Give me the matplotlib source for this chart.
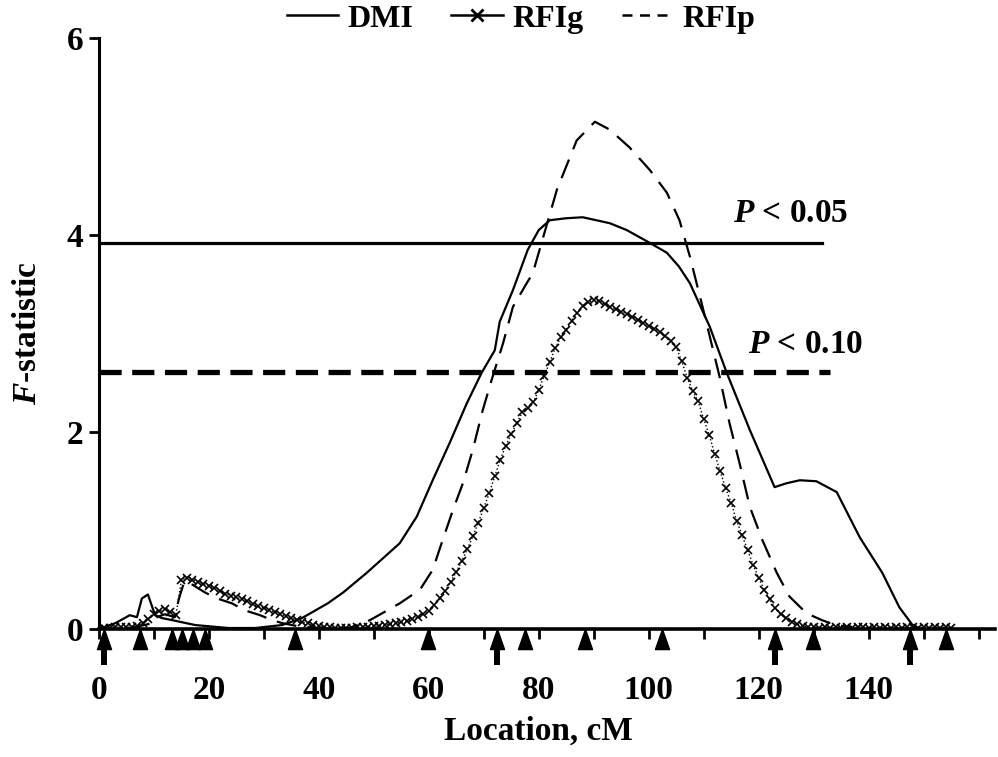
#!/usr/bin/env python3
"""F-statistic profile along the chromosome for DMI, RFIg and RFIp."""

import matplotlib

matplotlib.use("Agg")
import matplotlib.pyplot as plt
from matplotlib.lines import Line2D

# ---- data ----
dmi_cm = [0, 3, 5.6, 6.9, 7.8, 8.9, 10.2, 11.5, 13.3, 17.5, 23.5, 28.4, 33.3,
          36.9, 41.6, 44.4, 48.7, 54.7, 57.8, 60.7, 63.8, 66.9, 69.6, 72.0,
          72.9, 75.3, 78.0, 80.0, 82.0, 85.0, 88.0, 92.9, 96.0, 100.2, 103.3,
          105.5, 107.5, 111.1, 114.2, 118.4, 122.9, 125.1, 127.5, 130.5,
          134.2, 138.4, 142.5, 145.6, 148.0, 149.5]
dmi_f = [0, 0.06, 0.14, 0.12, 0.31, 0.35, 0.14, 0.11, 0.09, 0.04, 0.01, 0.01,
         0.04, 0.11, 0.26, 0.37, 0.57, 0.87, 1.14, 1.51, 1.89, 2.29, 2.60,
         2.83, 3.12, 3.44, 3.85, 4.05, 4.15, 4.17, 4.18, 4.12, 4.05, 3.92,
         3.82, 3.68, 3.51, 3.07, 2.60, 2.02, 1.44, 1.48, 1.51, 1.50, 1.39,
         0.93, 0.57, 0.22, 0.04, 0.0]

rfip_cm = [0, 5, 9, 10.5, 12, 13.8, 14.5, 15.5, 17, 19.3, 21.5, 24.2, 26.5,
           29.3, 31.5, 33.3, 36, 40, 45, 49.3, 54.7, 58.4, 60.7, 62.5, 64.4,
           66.2, 68, 69.8, 71.6, 73.5, 75.3, 77.8, 78.9, 80.2, 83.3, 86.9,
           90.2, 92.9, 96.5, 100.2, 103.3, 105.6, 107.5, 109.8, 112.9, 114.7,
           116.5, 118.4, 120.7, 123.3, 125.6, 128.7, 131.5, 134, 137]
rfip_f = [0, 0.0, 0.05, 0.12, 0.15, 0.12, 0.30, 0.48, 0.45, 0.37, 0.31, 0.26,
          0.19, 0.14, 0.09, 0.06, 0.03, 0.01, 0.0, 0.09, 0.26, 0.40, 0.60,
          0.90, 1.21, 1.48, 1.82, 2.22, 2.56, 2.90, 3.27, 3.51, 3.61, 3.86,
          4.46, 4.96, 5.15, 5.07, 4.89, 4.66, 4.43, 4.15, 3.78, 3.27, 2.56,
          2.09, 1.69, 1.24, 0.90, 0.57, 0.33, 0.16, 0.09, 0.04, 0.02]

# RFIg is plotted every 1 cM from 0 to 155
rfig_f = [0.00, 0.01, 0.01, 0.02, 0.02, 0.02, 0.02, 0.03, 0.06, 0.10,
          0.15, 0.18, 0.20, 0.17, 0.14, 0.50, 0.52, 0.50, 0.48, 0.46,
          0.44, 0.42, 0.39, 0.36, 0.34, 0.32, 0.30, 0.28, 0.25, 0.23,
          0.21, 0.19, 0.17, 0.15, 0.13, 0.11, 0.09, 0.07, 0.06, 0.04,
          0.03, 0.02, 0.02, 0.01, 0.01, 0.01, 0.01, 0.02, 0.02, 0.02,
          0.03, 0.03, 0.04, 0.05, 0.06, 0.07, 0.08, 0.10, 0.12, 0.15,
          0.18, 0.24, 0.31, 0.39, 0.48, 0.58, 0.69, 0.81, 0.94, 1.08,
          1.23, 1.38, 1.55, 1.72, 1.86, 1.98, 2.09, 2.20, 2.24, 2.30,
          2.43, 2.57, 2.71, 2.85, 2.96, 3.04, 3.13, 3.21, 3.28, 3.32,
          3.34, 3.33, 3.30, 3.27, 3.25, 3.22, 3.20, 3.17, 3.14, 3.11,
          3.08, 3.05, 3.02, 2.97, 2.92, 2.86, 2.72, 2.55, 2.42, 2.31,
          2.13, 1.97, 1.78, 1.60, 1.43, 1.28, 1.10, 0.95, 0.80, 0.65,
          0.52, 0.40, 0.30, 0.21, 0.15, 0.11, 0.07, 0.05, 0.03, 0.02,
          0.02, 0.01, 0.02, 0.01, 0.02, 0.01, 0.02, 0.01, 0.02, 0.02,
          0.01, 0.02, 0.01, 0.02, 0.01, 0.02, 0.01, 0.02, 0.02, 0.01,
          0.02, 0.01, 0.02, 0.01, 0.02, 0.01]
rfig_cm = list(range(len(rfig_f)))

thr_05 = 3.92
thr_10 = 2.61
thr_end = 131.5

# marker positions along the axis (cM); arrows vs plain triangles
marker_cm = [7.5, 13.3, 15.1, 17.1, 19.3, 35.6, 59.8, 77.5, 88.5, 102.5,
             129.8, 154.0]
arrow_cm = [0.9, 72.4, 122.9, 147.6]

xtick_pos = list(range(0, 161, 10))
xtick_lab = [str(v) if v % 20 == 0 and v <= 140 else "" for v in xtick_pos]
ytick_pos = [0, 2, 4, 6]

plt.rcParams.update({
    "font.family": "Liberation Serif",
    "font.weight": "bold",
    "mathtext.fontset": "custom",
    "mathtext.it": "Liberation Serif:italic:bold",
    "mathtext.rm": "Liberation Serif:bold",
})

fig = plt.figure(figsize=(9.98, 7.57), dpi=100)
ax = fig.add_axes([0.0992, 0.1691, 0.8978, 0.7807])
ax.set_xlim(0, 163)
ax.set_ylim(0, 6)

ax.plot(dmi_cm, dmi_f, color="black", lw=1.6, solid_joinstyle="round")
ax.plot(rfip_cm, rfip_f, color="black", lw=1.6, dashes=(9, 5))
ax.plot(rfig_cm, rfig_f, color="black", lw=1.0, ls=":", marker="x",
        ms=6, mew=1.2)

ax.plot([0, thr_end], [thr_05, thr_05], color="black", lw=2.3)
ax.plot([0, thr_end + 1.5], [thr_10, thr_10], color="black", lw=3.8,
        dashes=(4.2, 2.0))
ax.text(115.3, 4.22, "$P$ < 0.05", fontsize=24, fontweight="bold",
        va="center", ha="left")
ax.text(118.0, 2.89, "$P$ < 0.10", fontsize=24, fontweight="bold",
        va="center", ha="left")

# triangles / arrows below the axis
tri = [(0, 1), (-0.7, -1), (0.7, -1), (0, 1)]
ax.plot(marker_cm + arrow_cm, [-0.097] * (len(marker_cm) + len(arrow_cm)),
        ls="none", marker=tri, ms=14.5, color="black", clip_on=False)
ax.vlines(arrow_cm, -0.37, -0.15, color="black", lw=4.3, clip_on=False)

for side in ("top", "right"):
    ax.spines[side].set_visible(False)
ax.spines["left"].set_linewidth(2.2)
ax.spines["bottom"].set_linewidth(2.6)

ax.set_xticks(xtick_pos)
ax.set_xticklabels(xtick_lab)
ax.set_yticks(ytick_pos)
ax.tick_params(axis="x", direction="out", length=7, width=2.0, pad=26,
               labelsize=24)
ax.tick_params(axis="y", direction="out", length=7, width=2.0, pad=4,
               labelsize=24)
ax.set_xlabel("Location, cM", fontsize=24, fontweight="bold")
ax.xaxis.set_label_coords(80 / 163, -0.147)
ax.set_ylabel("$F$-statistic", fontsize=24, fontweight="bold")
ax.yaxis.set_label_coords(-0.062, 0.5)

handles = [
    Line2D([], [], color="black", lw=1.8),
    Line2D([], [], color="black", lw=1.8, marker="x", ms=8, mew=2),
    Line2D([], [], color="black", lw=1.8, dashes=(4, 3)),
]
fig.legend(handles, ["DMI", "RFIg", "RFIp"], loc="center", ncol=3,
           bbox_to_anchor=(0.522, 0.975), frameon=False, fontsize=23,
           handlelength=1.6, handletextpad=0.3, columnspacing=1.2,
           numpoints=1)

fig.savefig("out.png", dpi=100, facecolor="white")
